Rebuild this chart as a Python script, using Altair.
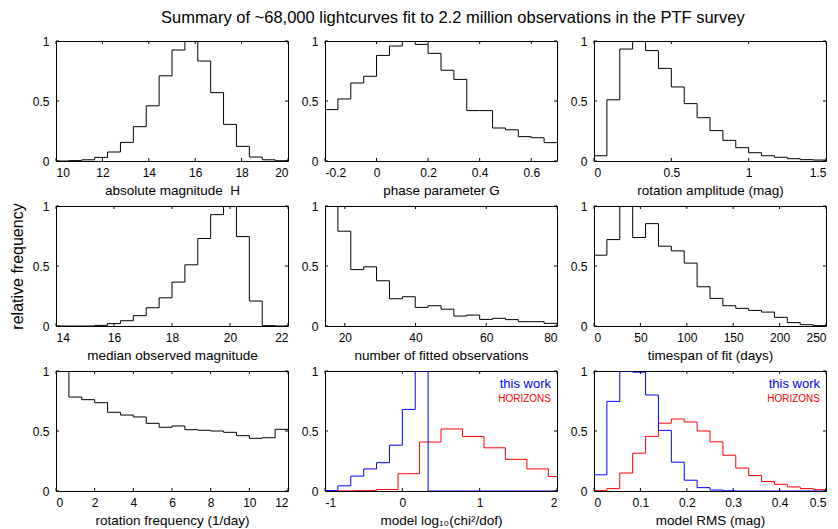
import altair as alt
import pandas as pd
import numpy as np

TITLE = "Summary of ~68,000 lightcurves fit to 2.2 million observations in the PTF survey"
YLABEL = "relative frequency"
Y_TICKS = [0, 0.5, 1]

# ---- panel data (18 bins each, relative frequency) ----
h_label = "absolute magnitude\u00a0 H"
h_range = [10, 20]
h_ticks = [10, 12, 14, 16, 18, 20]
h_vals = [0.0, 0.003, 0.01, 0.03, 0.075, 0.155, 0.286, 0.46, 0.71, 0.925,
          1.0, 0.833, 0.57, 0.305, 0.122, 0.033, 0.01, 0.002]

g_label = "phase parameter G"
g_range = [-0.2, 0.7]
g_ticks = [-0.2, 0, 0.2, 0.4, 0.6]
g_vals = [0.428, 0.517, 0.65, 0.706, 0.88, 0.958, 1.0, 0.972, 0.897,
          0.756, 0.68, 0.42, 0.42, 0.275, 0.26, 0.203, 0.194, 0.153]

a_label = "rotation amplitude (mag)"
a_range = [0, 1.5]
a_ticks = [0, 0.5, 1, 1.5]
a_vals = [0.044, 0.51, 0.933, 1.0, 0.92, 0.772, 0.617, 0.478, 0.361,
          0.253, 0.172, 0.111, 0.069, 0.044, 0.031, 0.019, 0.011, 0.008]

m_label = "median observed magnitude"
m_range = [14, 22]
m_ticks = [14, 16, 18, 20, 22]
m_vals = [0.0, 0.0, 0.0, 0.005, 0.02, 0.044, 0.086, 0.152, 0.235,
          0.366, 0.51, 0.729, 0.928, 1.0, 0.745, 0.208, 0.003, 0.0]

n_label = "number of fitted observations"
n_range = [14.4, 80]
n_ticks = [20, 40, 60, 80]
n_vals = [1.0, 0.79, 0.47, 0.493, 0.377, 0.227, 0.244, 0.155, 0.169,
          0.14, 0.083, 0.091, 0.055, 0.064, 0.053, 0.036, 0.036, 0.022]

t_label = "timespan of fit (days)"
t_range = [0, 250]
t_ticks = [0, 50, 100, 150, 200, 250]
t_vals = [0.59, 0.72, 1.0, 0.737, 0.853, 0.665, 0.626, 0.524, 0.327,
          0.23, 0.169, 0.147, 0.13, 0.116, 0.072, 0.028, 0.011, 0.003]

f_label = "rotation frequency (1/day)"
f_range = [0, 12]
f_ticks = [0, 2, 4, 6, 8, 10, 12]
f_vals = [1.0, 0.783, 0.761, 0.736, 0.656, 0.633, 0.617, 0.564, 0.531,
          0.542, 0.511, 0.506, 0.5, 0.489, 0.461, 0.439, 0.444, 0.514]

c_label = "model log\u2081\u2080(chi\u00b2/dof)"
c_range = [-1, 2]
c_ticks = [-1, 0, 1, 2]
c_blue_vals = [0.003, 0.043, 0.124, 0.184, 0.236, 0.382, 0.68, 1.0, 0.0,
               0.0, 0.0, 0.0, 0.0, 0.0, 0.0, 0.0, 0.0, 0.0]
c_red_edges = [-1, -0.889, -0.611, -0.333, -0.056, 0.222, 0.5, 0.778,
               1.056, 1.333, 1.611, 1.889, 2]
c_red_vals = [0.0, 0.001, 0.003, 0.012, 0.144, 0.408, 0.517, 0.454,
              0.36, 0.264, 0.184, 0.121]

r_label = "model RMS (mag)"
r_range = [0, 0.5]
r_ticks = [0, 0.1, 0.2, 0.3, 0.4, 0.5]
r_blue_vals = [0.135, 0.747, 1.0, 0.99, 0.8, 0.505, 0.24, 0.09, 0.028,
               0.008, 0.002, 0.0, 0.0, 0.0, 0.0, 0.0, 0.0, 0.0]
r_red_vals = [0.003, 0.02, 0.15, 0.315, 0.455, 0.565, 0.6, 0.575, 0.5,
              0.41, 0.298, 0.191, 0.129, 0.079, 0.056, 0.034, 0.02, 0.011]

LEGEND = ["this work", "HORIZONS"]

W, H = 232, 120
TL = 3  # inward tick length
FONT = "Liberation Sans"


def uniform_edges(rng, n):
    return list(np.linspace(rng[0], rng[1], n + 1))


def step_df(edges, vals):
    return pd.DataFrame({"x": list(edges), "y": list(vals) + [vals[-1]]})


def panel(label, rng, ticks, series, ytitle=None, legend=False):
    xenc = alt.X("x:Q",
                 scale=alt.Scale(domain=rng, nice=False, zero=False),
                 axis=alt.Axis(values=ticks, title=label,
                               labelExpr="'' + datum.value"))
    if ytitle:
        yaxis = alt.Axis(values=Y_TICKS, labelExpr="'' + datum.value",
                         title=ytitle, titleFontSize=16, titlePadding=7)
    else:
        yaxis = alt.Axis(values=Y_TICKS, labelExpr="'' + datum.value", title=None)
    yenc = alt.Y("y:Q", scale=alt.Scale(domain=[0, 1], nice=False), axis=yaxis)

    layers = []
    for edges, vals, color in series:
        layers.append(
            alt.Chart(step_df(edges, vals))
            .mark_line(interpolate="step-after", color=color, strokeWidth=1, clip=True)
            .encode(x=xenc, y=yenc)
        )
    xt = pd.DataFrame({"x": ticks})
    yt = pd.DataFrame({"y": Y_TICKS})
    layers.append(alt.Chart(xt).mark_rule(color="black", strokeWidth=1)
                  .encode(x=xenc, y=alt.value(H), y2=alt.value(H - TL)))
    layers.append(alt.Chart(xt).mark_rule(color="black", strokeWidth=1)
                  .encode(x=xenc, y=alt.value(0), y2=alt.value(TL)))
    layers.append(alt.Chart(yt).mark_rule(color="black", strokeWidth=1)
                  .encode(y=yenc, x=alt.value(0), x2=alt.value(TL)))
    layers.append(alt.Chart(yt).mark_rule(color="black", strokeWidth=1)
                  .encode(y=yenc, x=alt.value(W), x2=alt.value(W - TL)))
    if legend:
        layers.append(alt.Chart(pd.DataFrame({"t": [LEGEND[0]]}))
                      .mark_text(align="right", baseline="alphabetic", color="blue",
                                 fontSize=13, font=FONT)
                      .encode(x=alt.value(W - 6), y=alt.value(17), text="t:N"))
        layers.append(alt.Chart(pd.DataFrame({"t": [LEGEND[1]]}))
                      .mark_text(align="right", baseline="alphabetic", color="red",
                                 fontSize=10, font=FONT)
                      .encode(x=alt.value(W - 6), y=alt.value(31), text="t:N"))
    return alt.layer(*layers).properties(width=W, height=H)


panels = [
    panel(h_label, h_range, h_ticks, [(uniform_edges(h_range, 18), h_vals, "black")]),
    panel(g_label, g_range, g_ticks, [(uniform_edges(g_range, 18), g_vals, "black")]),
    panel(a_label, a_range, a_ticks, [(uniform_edges(a_range, 18), a_vals, "black")]),
    panel(m_label, m_range, m_ticks, [(uniform_edges(m_range, 18), m_vals, "black")],
          ytitle=YLABEL),
    panel(n_label, n_range, n_ticks, [(uniform_edges(n_range, 18), n_vals, "black")]),
    panel(t_label, t_range, t_ticks, [(uniform_edges(t_range, 18), t_vals, "black")]),
    panel(f_label, f_range, f_ticks, [(uniform_edges(f_range, 18), f_vals, "black")]),
    panel(c_label, c_range, c_ticks,
          [(c_red_edges, c_red_vals, "#ff0000"),
           (uniform_edges(c_range, 18), c_blue_vals, "#0000ff")], legend=True),
    panel(r_label, r_range, r_ticks,
          [(uniform_edges(r_range, 18), r_red_vals, "#ff0000"),
           (uniform_edges(r_range, 18), r_blue_vals, "#0000ff")], legend=True),
]

chart = (
    alt.concat(*panels, columns=3, spacing={"row": 45, "column": 37}, bounds="flush")
    .properties(
        title=alt.TitleParams(TITLE, fontSize=16.5, fontWeight="normal", font=FONT,
                              color="black", anchor="middle", offset=8, dx=35),
        padding={"left": 0, "top": 2, "right": 2, "bottom": 2},
        background="white",
    )
    .configure_view(stroke="black", strokeWidth=1)
    .configure_axis(grid=False, domain=False, ticks=False, labelFont=FONT,
                    titleFont=FONT, labelFontSize=12, titleFontSize=13.5,
                    labelColor="black", titleColor="black", titleFontWeight="normal",
                    labelPadding=6, titlePadding=5)
    .configure_axisY(labelPadding=7)
)

chart.save("out.html", embed_options={"renderer": "svg", "actions": False})
